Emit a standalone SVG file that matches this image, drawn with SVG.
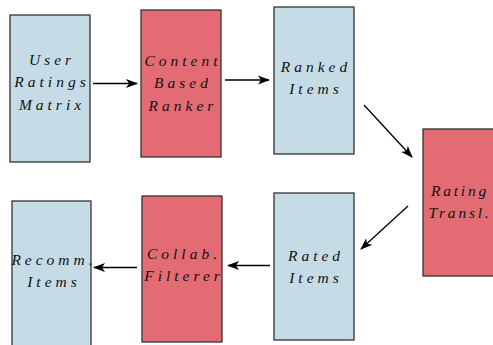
<svg xmlns="http://www.w3.org/2000/svg" width="493" height="345" viewBox="0 0 493 345">
<defs>
<style>
.blue{fill:#c5dce6;stroke:#333;stroke-width:1.3}
.red{fill:#e36c74;stroke:#333;stroke-width:1.3}
.t{font-family:"Liberation Serif","DejaVu Serif",serif;font-style:italic;font-size:15.5px;letter-spacing:4px;text-anchor:middle;fill:#111}
.tight{letter-spacing:2.8px}
.c{stroke:#000;stroke-width:1.3;fill:none;marker-end:url(#ah)}
</style>
<marker id="ah" viewBox="0 0 12 10" refX="11" refY="5" markerWidth="12" markerHeight="10" markerUnits="userSpaceOnUse" orient="auto">
<path d="M0,0.5 L12,5 L0,9.5 L3,5 Z" fill="#000"/>
</marker>
</defs>
<rect width="493" height="345" fill="#fff"/>
<g id="user-ratings-matrix">
<rect class="blue" x="10" y="15" width="80" height="147"/>
<text class="t" x="52" y="65">User</text>
<text class="t" x="52" y="87">Ratings</text>
<text class="t" x="52" y="110">Matrix</text>
</g>
<g id="content-based-ranker">
<rect class="red" x="141" y="10" width="80" height="147"/>
<text class="t" x="183" y="66">Content</text>
<text class="t" x="183" y="88">Based</text>
<text class="t" x="183" y="111">Ranker</text>
</g>
<g id="ranked-items">
<rect class="blue" x="274" y="7" width="80" height="147"/>
<text class="t" x="316" y="72">Ranked</text>
<text class="t" x="316" y="94">Items</text>
</g>
<g id="rating-transl">
<rect class="red" x="423" y="129" width="80" height="147"/>
<text class="t tight" x="460" y="196">Rating</text>
<text class="t tight" x="460" y="218">Transl.</text>
</g>
<g id="rated-items">
<rect class="blue" x="274" y="193" width="80" height="147"/>
<text class="t" x="316" y="261">Rated</text>
<text class="t" x="316" y="283">Items</text>
</g>
<g id="collab-filterer">
<rect class="red" x="142" y="196" width="80" height="146"/>
<text class="t" x="184" y="259">Collab.</text>
<text class="t" x="184" y="281">Filterer</text>
</g>
<g id="recomm-items">
<rect class="blue" x="12" y="201" width="79" height="150"/>
<text class="t" x="54" y="265">Recomm.</text>
<text class="t" x="54" y="287">Items</text>
</g>
<g id="connectors">
<line class="c" x1="93" y1="83.5" x2="137" y2="83.5"/>
<line class="c" x1="225" y1="80" x2="269" y2="80"/>
<line class="c" x1="364" y1="105" x2="412" y2="157"/>
<line class="c" x1="408" y1="206" x2="361" y2="249"/>
<line class="c" x1="270" y1="265.5" x2="228" y2="265.5"/>
<line class="c" x1="137" y1="267.5" x2="94" y2="267.5"/>
</g>
</svg>
